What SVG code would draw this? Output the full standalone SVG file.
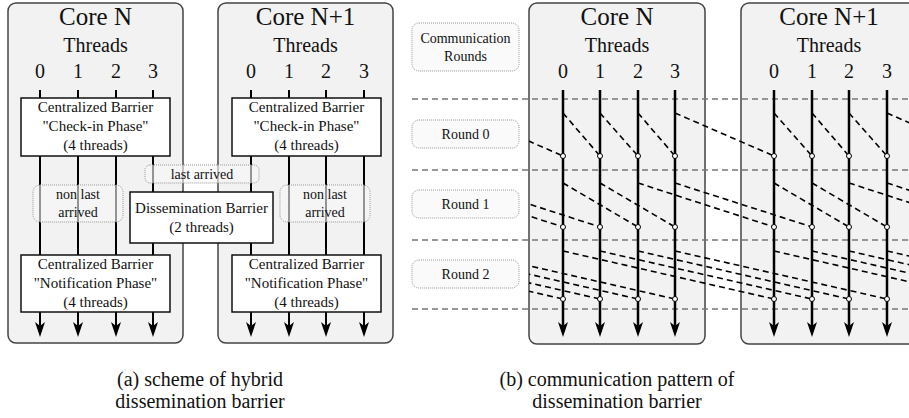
<svg xmlns="http://www.w3.org/2000/svg" width="909" height="418" viewBox="0 0 909 418">
<style>
text{font-family:"Liberation Serif","Times New Roman",serif;fill:#111;text-anchor:middle}
.core{fill:#f2f2f2;stroke:#444;stroke-width:1.5}
.box{fill:#fff;stroke:#111;stroke-width:1.5}
.dot{fill:#f6f6f6;fill-opacity:0.6;stroke:#999;stroke-width:1;stroke-dasharray:1,1}
.t1{font-size:25px}
.t2{font-size:20px}
.t3{font-size:15px}
.t4{font-size:14px}
.thr{stroke:#000;stroke-width:2;fill:none;marker-end:url(#arr)}
.thrb{stroke:#000;stroke-width:2.5;fill:none;marker-end:url(#arr)}
.rnd{stroke:#777;stroke-width:1.5;stroke-dasharray:6,4;fill:none}
.msg{stroke:#000;stroke-width:1.6;stroke-dasharray:6,4;fill:none}
.rcv{fill:#fff;stroke:#000;stroke-width:1}
</style>
<defs>
<marker id="arr" markerUnits="userSpaceOnUse" viewBox="-1 -6 17 12" refX="10" refY="0" markerWidth="17" markerHeight="12" orient="auto">
<path d="M15,0 L0,-5 L4,0 L0,5 Z" fill="#000"/>
</marker>
<clipPath id="clipb"><rect x="529" y="0" width="380" height="418"/></clipPath>
</defs>

<!-- (a) hybrid dissemination barrier -->
<g id="a-coreN">
<rect class="core" x="8" y="3" width="175" height="340" rx="8"/>
<text class="t1" x="95.5" y="25">Core N</text>
<text class="t2" x="95.5" y="52">Threads</text>
<text class="t2" x="40" y="78">0</text>
<text class="t2" x="78" y="78">1</text>
<text class="t2" x="116" y="78">2</text>
<text class="t2" x="153" y="78">3</text>
</g>
<g id="a-coreN1">
<rect class="core" x="218" y="3" width="175" height="340" rx="8"/>
<text class="t1" x="305.5" y="25">Core N+1</text>
<text class="t2" x="305.5" y="52">Threads</text>
<text class="t2" x="251" y="78">0</text>
<text class="t2" x="289" y="78">1</text>
<text class="t2" x="326" y="78">2</text>
<text class="t2" x="364" y="78">3</text>
</g>
<g id="a-threads">
<line class="thr" x1="40" y1="90" x2="40" y2="332"/>
<line class="thr" x1="78" y1="90" x2="78" y2="332"/>
<line class="thr" x1="116" y1="90" x2="116" y2="332"/>
<line class="thr" x1="153" y1="90" x2="153" y2="332"/>
<line class="thr" x1="251" y1="90" x2="251" y2="332"/>
<line class="thr" x1="289" y1="90" x2="289" y2="332"/>
<line class="thr" x1="326" y1="90" x2="326" y2="332"/>
<line class="thr" x1="364" y1="90" x2="364" y2="332"/>
</g>
<g id="a-checkinN">
<rect class="box" x="21" y="98" width="149" height="58"/>
<text class="t3" x="95.5" y="112">Centralized Barrier</text>
<text class="t3" x="95.5" y="131">"Check-in Phase"</text>
<text class="t3" x="95.5" y="150">(4 threads)</text>
</g>
<g id="a-checkinN1">
<rect class="box" x="232" y="98" width="149" height="58"/>
<text class="t3" x="306.5" y="112">Centralized Barrier</text>
<text class="t3" x="306.5" y="131">"Check-in Phase"</text>
<text class="t3" x="306.5" y="150">(4 threads)</text>
</g>
<g id="a-dissem">
<rect class="box" x="130" y="192" width="143" height="51"/>
<text class="t3" x="201.5" y="213">Dissemination Barrier</text>
<text class="t3" x="201.5" y="232">(2 threads)</text>
</g>
<g id="a-notifN">
<rect class="box" x="21" y="255" width="149" height="57"/>
<text class="t3" x="95.5" y="269">Centralized Barrier</text>
<text class="t3" x="95.5" y="288">"Notification Phase"</text>
<text class="t3" x="95.5" y="307">(4 threads)</text>
</g>
<g id="a-notifN1">
<rect class="box" x="232" y="255" width="149" height="57"/>
<text class="t3" x="306.5" y="269">Centralized Barrier</text>
<text class="t3" x="306.5" y="288">"Notification Phase"</text>
<text class="t3" x="306.5" y="307">(4 threads)</text>
</g>
<g id="a-lastarrived">
<rect class="dot" x="145" y="165" width="114" height="18" rx="5"/>
<text class="t4" x="202" y="179">last arrived</text>
</g>
<g id="a-nonlastN">
<rect class="dot" x="33" y="185" width="90" height="37" rx="7"/>
<text class="t4" x="78" y="199">non last</text>
<text class="t4" x="78" y="217">arrived</text>
</g>
<g id="a-nonlastN1">
<rect class="dot" x="280" y="185" width="90" height="37" rx="7"/>
<text class="t4" x="325" y="199">non last</text>
<text class="t4" x="325" y="217">arrived</text>
</g>

<!-- (b) communication pattern -->
<g id="b-rounds-label">
<rect class="dot" x="412" y="23" width="107" height="48" rx="7"/>
<text class="t4" x="465.5" y="43">Communication</text>
<text class="t4" x="465.5" y="61">Rounds</text>
</g>
<g id="b-round0">
<rect class="dot" x="412" y="120" width="107" height="28" rx="7"/>
<text class="t4" x="465.5" y="139">Round 0</text>
</g>
<g id="b-round1">
<rect class="dot" x="412" y="190" width="107" height="28" rx="7"/>
<text class="t4" x="465.5" y="209">Round 1</text>
</g>
<g id="b-round2">
<rect class="dot" x="412" y="260" width="107" height="28" rx="7"/>
<text class="t4" x="465.5" y="279">Round 2</text>
</g>
<g id="b-coreN">
<rect class="core" x="529" y="3" width="176" height="341" rx="8"/>
<text class="t1" x="617" y="25">Core N</text>
<text class="t2" x="617" y="52">Threads</text>
<text class="t2" x="563" y="78">0</text>
<text class="t2" x="600" y="78">1</text>
<text class="t2" x="638" y="78">2</text>
<text class="t2" x="675" y="78">3</text>
</g>
<g id="b-coreN1">
<rect class="core" x="741" y="3" width="176" height="341" rx="8"/>
<text class="t1" x="829" y="25">Core N+1</text>
<text class="t2" x="829" y="52">Threads</text>
<text class="t2" x="774" y="78">0</text>
<text class="t2" x="812" y="78">1</text>
<text class="t2" x="849" y="78">2</text>
<text class="t2" x="887" y="78">3</text>
</g>
<g id="connectors">
<path class="rnd" d="M412,99H909M412,170H909M412,240H909M412,309H909"/>
<g clip-path="url(#clipb)">
<path class="msg" d="M464,113L563,156M563,113L600,156M600,113L638,156M638,113L675,156M675,113L774,156M774,113L812,156M812,113L849,156M849,113L887,156M887,113L985,156"/>
<path class="msg" d="M427,183L563,227M464,183L600,227M563,183L638,227M600,183L675,227M638,183L774,227M675,183L812,227M774,183L849,227M812,183L887,227M849,183L985,227M887,183L1023,227"/>
<path class="msg" d="M352,251L563,299M389,251L600,299M427,251L638,299M464,251L675,299M563,251L774,299M600,251L812,299M638,251L849,299M675,251L887,299M774,251L985,299M812,251L1023,299M849,251L1060,299M887,251L1098,299"/>
</g>
<line class="thrb" x1="563" y1="90" x2="563" y2="332"/>
<line class="thrb" x1="600" y1="90" x2="600" y2="332"/>
<line class="thrb" x1="638" y1="90" x2="638" y2="332"/>
<line class="thrb" x1="675" y1="90" x2="675" y2="332"/>
<line class="thrb" x1="774" y1="90" x2="774" y2="332"/>
<line class="thrb" x1="812" y1="90" x2="812" y2="332"/>
<line class="thrb" x1="849" y1="90" x2="849" y2="332"/>
<line class="thrb" x1="887" y1="90" x2="887" y2="332"/>
<g class="rcv">
<circle cx="563" cy="156" r="2.5"/><circle cx="600" cy="156" r="2.5"/><circle cx="638" cy="156" r="2.5"/><circle cx="675" cy="156" r="2.5"/>
<circle cx="774" cy="156" r="2.5"/><circle cx="812" cy="156" r="2.5"/><circle cx="849" cy="156" r="2.5"/><circle cx="887" cy="156" r="2.5"/>
<circle cx="563" cy="227" r="2.5"/><circle cx="600" cy="227" r="2.5"/><circle cx="638" cy="227" r="2.5"/><circle cx="675" cy="227" r="2.5"/>
<circle cx="774" cy="227" r="2.5"/><circle cx="812" cy="227" r="2.5"/><circle cx="849" cy="227" r="2.5"/><circle cx="887" cy="227" r="2.5"/>
<circle cx="563" cy="299" r="2.5"/><circle cx="600" cy="299" r="2.5"/><circle cx="638" cy="299" r="2.5"/><circle cx="675" cy="299" r="2.5"/>
<circle cx="774" cy="299" r="2.5"/><circle cx="812" cy="299" r="2.5"/><circle cx="849" cy="299" r="2.5"/><circle cx="887" cy="299" r="2.5"/>
</g>
</g>

<g id="captions">
<text class="t2" x="200" y="386">(a) scheme of hybrid</text>
<text class="t2" x="200" y="408">dissemination barrier</text>
<text class="t2" x="617" y="386">(b) communication pattern of</text>
<text class="t2" x="617" y="408">dissemination barrier</text>
</g>
</svg>
